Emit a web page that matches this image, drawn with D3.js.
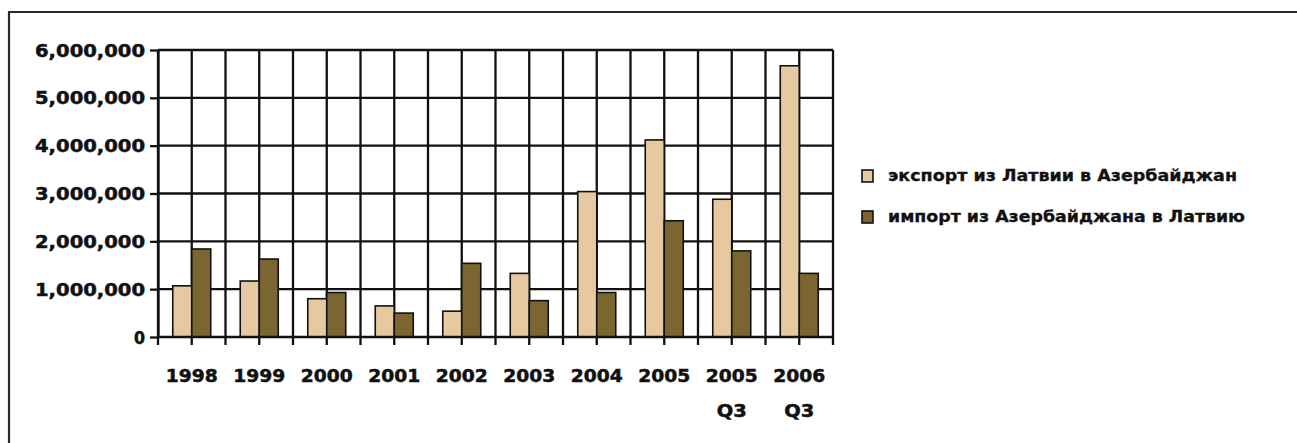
<!DOCTYPE html>
<html>
<head>
<meta charset="utf-8">
<script src="https://cdn.jsdelivr.net/npm/d3@7/dist/d3.min.js"></script>
<style>
  html, body { margin: 0; padding: 0; background: #fff; }
  svg { display: block; }
  text { font-family: "DejaVu Sans", sans-serif; fill: #111; stroke: #111; stroke-width: 0.5px; }
</style>
</head>
<body>
<svg id="chart" width="1297" height="443"></svg>
<script>
// Trade between Latvia and Azerbaijan
const categories = ["1998", "1999", "2000", "2001", "2002", "2003", "2004", "2005", "2005 Q3", "2006 Q3"];
const categoryLines = [["1998"], ["1999"], ["2000"], ["2001"], ["2002"], ["2003"], ["2004"], ["2005"], ["2005", "Q3"], ["2006", "Q3"]];
const exportValues = [1070000, 1170000, 800000, 650000, 540000, 1330000, 3040000, 4120000, 2880000, 5670000];
const importValues = [1840000, 1630000, 930000, 500000, 1540000, 760000, 930000, 2430000, 1800000, 1330000];
const seriesNames = ["экспорт из Латвии в Азербайджан", "импорт из Азербайджана в Латвию"];
const seriesColors = ["#e7c9a1", "#7b6632"];
const yTicks = [0, 1000000, 2000000, 3000000, 4000000, 5000000, 6000000];

const svg = d3.select("#chart");

// outer frame (top and left edges)
svg.append("path")
  .attr("d", "M9,443 V12 H1297")
  .attr("fill", "none")
  .attr("stroke", "#2a2a2a")
  .attr("stroke-width", 2.2);

const plot = { left: 158, right: 833, top: 50, bottom: 337 };

const x = d3.scaleBand().domain(categories).range([plot.left, plot.right]).paddingInner(0).paddingOuter(0);
const y = d3.scaleLinear().domain([0, 6000000]).range([plot.bottom, plot.top]);
const bw = x.bandwidth();
const barW = 19;

// horizontal gridlines
svg.append("g").selectAll("line")
  .data(yTicks.slice(1))
  .join("line")
  .attr("x1", plot.left).attr("x2", plot.right)
  .attr("y1", d => y(d)).attr("y2", d => y(d))
  .attr("stroke", "#111").attr("stroke-width", 2.3);

// vertical gridlines at band edges and band centres
const vLines = [];
categories.forEach(c => { vLines.push(x(c)); vLines.push(x(c) + bw / 2); });
vLines.push(plot.right);
svg.append("g").selectAll("line")
  .data(vLines)
  .join("line")
  .attr("x1", d => d).attr("x2", d => d)
  .attr("y1", plot.top).attr("y2", plot.bottom + 8)
  .attr("stroke", "#111").attr("stroke-width", 2.3);

// bars
const series = [exportValues, importValues];
series.forEach((vals, si) => {
  svg.append("g").selectAll("rect")
    .data(vals)
    .join("rect")
    .attr("x", (d, i) => x(categories[i]) + bw / 2 - barW + si * barW)
    .attr("y", d => y(d))
    .attr("width", barW)
    .attr("height", d => y(0) - y(d))
    .attr("fill", seriesColors[si])
    .attr("stroke", "#111")
    .attr("stroke-width", 1.6);
});

// y axis
const yAxis = d3.axisLeft(y)
  .tickValues(yTicks)
  .tickSize(8)
  .tickSizeOuter(0)
  .tickFormat(d3.format(",d"));
const gy = svg.append("g").attr("transform", `translate(${plot.left},0)`).call(yAxis);
gy.select(".domain").attr("stroke", "#111").attr("stroke-width", 2.3);
gy.selectAll(".tick line").attr("stroke", "#111").attr("stroke-width", 2.3);
gy.selectAll(".tick text")
  .attr("x", -13)
  .attr("dy", "0.36em")
  .style("font-size", "17px")
  .style("font-weight", "bold")
  .attr("textLength", d => d === 0 ? 11 : 110)
  .attr("lengthAdjust", "spacingAndGlyphs");

// x axis baseline
svg.append("line")
  .attr("x1", plot.left).attr("x2", plot.right)
  .attr("y1", y(0)).attr("y2", y(0))
  .attr("stroke", "#111").attr("stroke-width", 2.4);

// category labels
const xl = svg.append("g").selectAll("text")
  .data(categories)
  .join("text")
  .attr("text-anchor", "middle")
  .style("font-size", "17px")
  .style("font-weight", "bold");
xl.each(function (c, i) {
  const t = d3.select(this);
  categoryLines[i].forEach((line, li) => {
    t.append("tspan")
      .attr("x", x(c) + bw / 2)
      .attr("y", 382 + li * 35)
      .attr("textLength", line.length === 2 ? 30 : 52)
      .attr("lengthAdjust", "spacingAndGlyphs")
      .text(line);
  });
});

// legend
const legend = svg.append("g");
seriesNames.forEach((name, i) => {
  const ly = 170 + i * 41;
  legend.append("rect")
    .attr("x", 862).attr("y", ly)
    .attr("width", 11).attr("height", 12)
    .attr("fill", seriesColors[i])
    .attr("stroke", "#111").attr("stroke-width", 1.6);
  legend.append("text")
    .attr("x", 888).attr("y", ly + 11)
    .style("font-size", "15px")
    .style("font-weight", "bold")
    .style("stroke-width", "0.3px")
    .attr("textLength", i === 0 ? 349 : 357)
    .attr("lengthAdjust", "spacingAndGlyphs")
    .text(name);
});
</script>
</body>
</html>
